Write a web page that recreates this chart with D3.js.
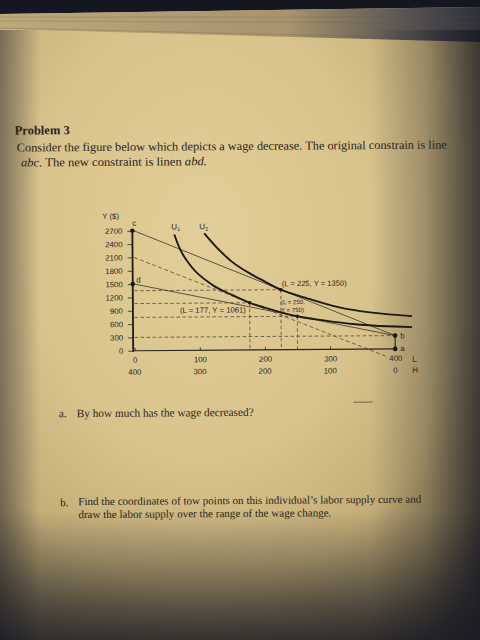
<!DOCTYPE html>
<html><head><meta charset="utf-8">
<script src="https://cdn.jsdelivr.net/npm/d3@7"></script>
<style>html,body{margin:0;padding:0;background:#161822;overflow:hidden}</style>
</head><body>
<svg id="c" width="480" height="640"></svg>
<script>
// ---- data ----
const yTicks = [0, 300, 600, 900, 1200, 1500, 1800, 2100, 2400, 2700];
const leisureTicks = [0, 100, 200, 300, 400];
const hoursLabels = ["400", "300", "200", "100", "0"];
const lineCB = [[0, 2700], [400, 300]];          // original constraint
const lineDB = [[0, 1500], [400, 300]];          // new constraint
const lineComp = [[0, 2100], [385, -160]];       // dashed compensated line
const lineBA = [[400, 300], [400, 0]];
const curveU1 = [[62,2610],[70,2300],[88,1880],[119,1480],[150,1240],[177,1061],[200,950],[250,750],[288,660],[339,560],[426,488]];
const curveU2 = [[108,2630],[124,2360],[150,1990],[180,1700],[200,1540],[225,1350],[262,1170],[313,950],[365,820],[426,736]];
const keyPoints = [
  {L:225, Y:1350}, {L:177, Y:1061}, {L:250, Y:750}
];
const cornerPoints = [
  {name:"c", L:0, Y:2700}, {name:"d", L:0, Y:1500}, {name:"b", L:400, Y:300}, {name:"a", L:400, Y:0}
];
const guideH = [{Y:1350, L:225}, {Y:1061, L:177}, {Y:750, L:250}, {Y:300, L:400}];
const guideV = [{L:177, Y:1061}, {L:225, Y:1350}, {L:250, Y:750}];

const svg = d3.select("#c");
const defs = svg.append("defs");

// ---- photo-like background ----
const rg = defs.append("radialGradient").attr("id","paper").attr("cx",0.42).attr("cy",0.36).attr("r",0.8);
[[0,"#e2ce98"],[0.45,"#d9c38c"],[0.7,"#c4ae78"],[0.88,"#9c885d"],[1,"#6a5d46"]].forEach(s=>rg.append("stop").attr("offset",s[0]).attr("stop-color",s[1]));
const bot = defs.append("linearGradient").attr("id","bot").attr("x1",0).attr("x2",0).attr("y1",0).attr("y2",1);
[[0,0],[0.4,0.3],[0.75,0.6],[1,0.8]].forEach(s=>bot.append("stop").attr("offset",s[0]).attr("stop-color","#161822").attr("stop-opacity",s[1]));
const rgt = defs.append("linearGradient").attr("id","rgt").attr("x1",0).attr("x2",1).attr("y1",0).attr("y2",0);
[[0,0],[0.5,0.25],[1,0.75]].forEach(s=>rgt.append("stop").attr("offset",s[0]).attr("stop-color","#161822").attr("stop-opacity",s[1]));
const lft = defs.append("linearGradient").attr("id","lft").attr("x1",0).attr("x2",1).attr("y1",0).attr("y2",0);
[[0,0.45],[1,0]].forEach(s=>lft.append("stop").attr("offset",s[0]).attr("stop-color","#161822").attr("stop-opacity",s[1]));
const edge = defs.append("linearGradient").attr("id","edge").attr("x1",0).attr("x2",1).attr("y1",0).attr("y2",0);
[[0,"#bca87a"],[0.6,"#a8946c"],[0.82,"#5f5a55"],[1,"#2e303b"]].forEach(s=>edge.append("stop").attr("offset",s[0]).attr("stop-color",s[1]));

svg.append("rect").attr("width",480).attr("height",640).attr("fill","#141720");
svg.append("polygon").attr("points","0,14 480,7 480,640 0,640").attr("fill","url(#paper)");
svg.append("polygon").attr("points","0,14 480,7 480,42 0,29").attr("fill","url(#edge)");
[[17,11],[21,17],[28,33]].forEach(p=>svg.append("line").attr("x1",0).attr("y1",p[0]).attr("x2",480).attr("y2",p[1]+6)
  .attr("stroke","#5e5444").attr("stroke-opacity",0.3).attr("stroke-width",0.8));
svg.append("rect").attr("x",0).attr("y",510).attr("width",480).attr("height",130).attr("fill","url(#bot)");
svg.append("rect").attr("x",370).attr("y",30).attr("width",110).attr("height",610).attr("fill","url(#rgt)");
svg.append("rect").attr("x",0).attr("y",30).attr("width",40).attr("height",610).attr("fill","url(#lft)");

// ---- content ----
const ink = "#2a251d";
const g = svg.append("g").attr("transform","rotate(-0.4,240,320)");
const serif = "'Liberation Serif','Times New Roman',serif";
const sans = "'Liberation Sans',Arial,sans-serif";

g.append("text").attr("x",16).attr("y",133).attr("font-family",serif).attr("font-weight","bold")
  .attr("font-size",12.5).attr("fill",ink).text("Problem 3");
g.append("text").attr("x",18).attr("y",150).attr("font-family",serif).attr("font-size",12).attr("fill",ink)
  .attr("textLength",430).attr("lengthAdjust","spacingAndGlyphs")
  .text("Consider the figure below which depicts a wage decrease. The original constrain is line");
const t3 = g.append("text").attr("x",22).attr("y",165).attr("font-family",serif).attr("font-size",12).attr("fill",ink)
  .attr("textLength",186).attr("lengthAdjust","spacingAndGlyphs");
t3.append("tspan").attr("font-style","italic").text("abc");
t3.append("tspan").text(". The new constraint is linen ");
t3.append("tspan").attr("font-style","italic").text("abd.");

g.append("text").attr("x",58).attr("y",416).attr("font-family",serif).attr("font-size",11.5).attr("fill",ink).text("a.");
g.append("text").attr("x",76).attr("y",416).attr("font-family",serif).attr("font-size",11.5).attr("fill",ink)
  .attr("textLength",177).attr("lengthAdjust","spacingAndGlyphs").text("By how much has the  wage decreased?");
g.append("line").attr("x1",353).attr("x2",372).attr("y1",403).attr("y2",403).attr("stroke","#5a5040").attr("stroke-width",0.8);
g.append("text").attr("x",59).attr("y",505).attr("font-family",serif).attr("font-size",11).attr("fill",ink).text("b.");
g.append("text").attr("x",77).attr("y",504).attr("font-family",serif).attr("font-size",11).attr("fill",ink)
  .attr("textLength",343).attr("lengthAdjust","spacingAndGlyphs")
  .text("Find the coordinates of tow points on this individual\u2019s labor supply curve and");
g.append("text").attr("x",77).attr("y",517).attr("font-family",serif).attr("font-size",11).attr("fill",ink)
  .attr("textLength",253).attr("lengthAdjust","spacingAndGlyphs")
  .text("draw the labor supply over the range of the wage change.");

// ---- chart ----
const x = d3.scaleLinear().domain([0,400]).range([134.5,395]);
const y = d3.scaleLinear().domain([0,2700]).range([350,230]);
const line = d3.line().x(d=>x(d[0])).y(d=>y(d[1]));
const ch = g.append("g");

// guides
const dash = "3.5,2.5";
ch.selectAll(".gh").data(guideH).join("line")
  .attr("x1",x(0)).attr("x2",d=>x(d.L)).attr("y1",d=>y(d.Y)).attr("y2",d=>y(d.Y))
  .attr("stroke","#3d372c").attr("stroke-width",0.7).attr("stroke-dasharray",dash);
ch.selectAll(".gv").data(guideV).join("line")
  .attr("x1",d=>x(d.L)).attr("x2",d=>x(d.L)).attr("y1",d=>y(d.Y)).attr("y2",y(0))
  .attr("stroke","#3d372c").attr("stroke-width",0.7).attr("stroke-dasharray",dash);
ch.append("path").attr("d",line(lineComp)).attr("fill","none").attr("stroke","#3d372c")
  .attr("stroke-width",0.7).attr("stroke-dasharray","4,2.5");

// budget lines
ch.append("path").attr("d",line(lineCB)).attr("fill","none").attr("stroke","#3a342a").attr("stroke-width",0.8);
ch.append("path").attr("d",line(lineDB)).attr("fill","none").attr("stroke","#3a342a").attr("stroke-width",0.8);
ch.append("path").attr("d",line(lineBA)).attr("fill","none").attr("stroke","#2a251d").attr("stroke-width",1.1);

// indifference curves
const cl = d3.line().x(d=>x(d[0])).y(d=>y(d[1])).curve(d3.curveMonotoneX);
[curveU1, curveU2].forEach(c=>ch.append("path").attr("d",cl(c)).attr("fill","none")
  .attr("stroke","#1c1813").attr("stroke-width",1.9));

// axes
const fs = 7.8;
const yAxis = d3.axisLeft(y).tickValues(yTicks).tickFormat(d3.format("d")).tickSize(5).tickPadding(5);
const ya = ch.append("g").attr("transform",`translate(${x(0)-1.5},0)`).call(yAxis);
ya.select(".domain").remove();
ya.selectAll("line").attr("stroke","#2a251d").attr("stroke-width",0.8);
ya.selectAll("text").attr("font-family",sans).attr("font-size",fs).attr("fill",ink);
ch.append("line").attr("x1",x(0)-1.5).attr("x2",x(0)-1.5).attr("y1",y(0)+1).attr("y2",y(2700))
  .attr("stroke","#1e1a14").attr("stroke-width",1.8);

const xAxis = d3.axisBottom(x).tickValues(leisureTicks).tickFormat(d3.format("d")).tickSizeInner(-3).tickSizeOuter(0).tickPadding(6.5);
const xa = ch.append("g").attr("transform",`translate(0,${y(0)})`).call(xAxis);
xa.select(".domain").remove();
xa.selectAll("line").attr("stroke","#2a251d").attr("stroke-width",0.8);
xa.selectAll("text").attr("font-family",sans).attr("font-size",fs).attr("fill",ink);
ch.append("line").attr("x1",x(0)-1.5).attr("x2",x(400)).attr("y1",y(0)).attr("y2",y(0))
  .attr("stroke","#2a251d").attr("stroke-width",1.1);
ch.selectAll(".hl").data(leisureTicks).join("text")
  .attr("x",d=>x(d)).attr("y",y(0)+24).attr("text-anchor","middle")
  .attr("font-family",sans).attr("font-size",fs).attr("fill",ink).text((d,i)=>hoursLabels[i]);

ch.append("text").attr("x",103).attr("y",218).attr("font-family",sans).attr("font-size",fs).attr("fill",ink).text("Y ($)");
ch.append("text").attr("x",x(400)+17).attr("y",y(0)+13).attr("font-family",sans).attr("font-size",8).attr("fill",ink).text("L");
ch.append("text").attr("x",x(400)+17).attr("y",y(0)+24).attr("font-family",sans).attr("font-size",8).attr("fill",ink).text("H");

// points
ch.selectAll(".kp").data(keyPoints).join("circle").attr("cx",d=>x(d.L)).attr("cy",d=>y(d.Y)).attr("r",1.8).attr("fill","#1c1813");
ch.selectAll(".cp").data(cornerPoints).join("circle").attr("cx",d=>x(d.L)-(d.L===0?1.5:0)).attr("cy",d=>y(d.Y)).attr("r",2.3).attr("fill","#1c1813");

// labels
const lab = (tx,ty,s,f,len)=>{const t=ch.append("text").attr("x",tx).attr("y",ty).attr("font-family",sans).attr("font-size",f).attr("fill",ink).text(s);
  if(len) t.attr("textLength",len).attr("lengthAdjust","spacingAndGlyphs"); return t;};
lab(x(0)-1.5,y(2700)-5,"c",8);
lab(x(0)+2,y(1500)-1.5,"d",8);
lab(x(400)+5,y(300)+3,"b",8);
lab(x(400)+5,y(0)+2,"a",8);
const u1 = ch.append("text").attr("x",172).attr("y",229).attr("font-family",sans).attr("font-size",8).attr("fill",ink);
u1.append("tspan").text("U");
u1.append("tspan").attr("font-size",5.2).attr("dy",1.5).text("1");
const u2 = ch.append("text").attr("x",200).attr("y",229).attr("font-family",sans).attr("font-size",8).attr("fill",ink);
u2.append("tspan").text("U");
u2.append("tspan").attr("font-size",5.2).attr("dy",1.5).text("2");
lab(282,286.5,"(L = 225, Y = 1350)",7.5,65);
lab(180,312.5,"(L = 177, Y = 1061)",7.5,66);
lab(281,304.5,"(L = 250,",6,24);
lab(281,312.5,"Y = 750)",6,23);
</script>
</body></html>
